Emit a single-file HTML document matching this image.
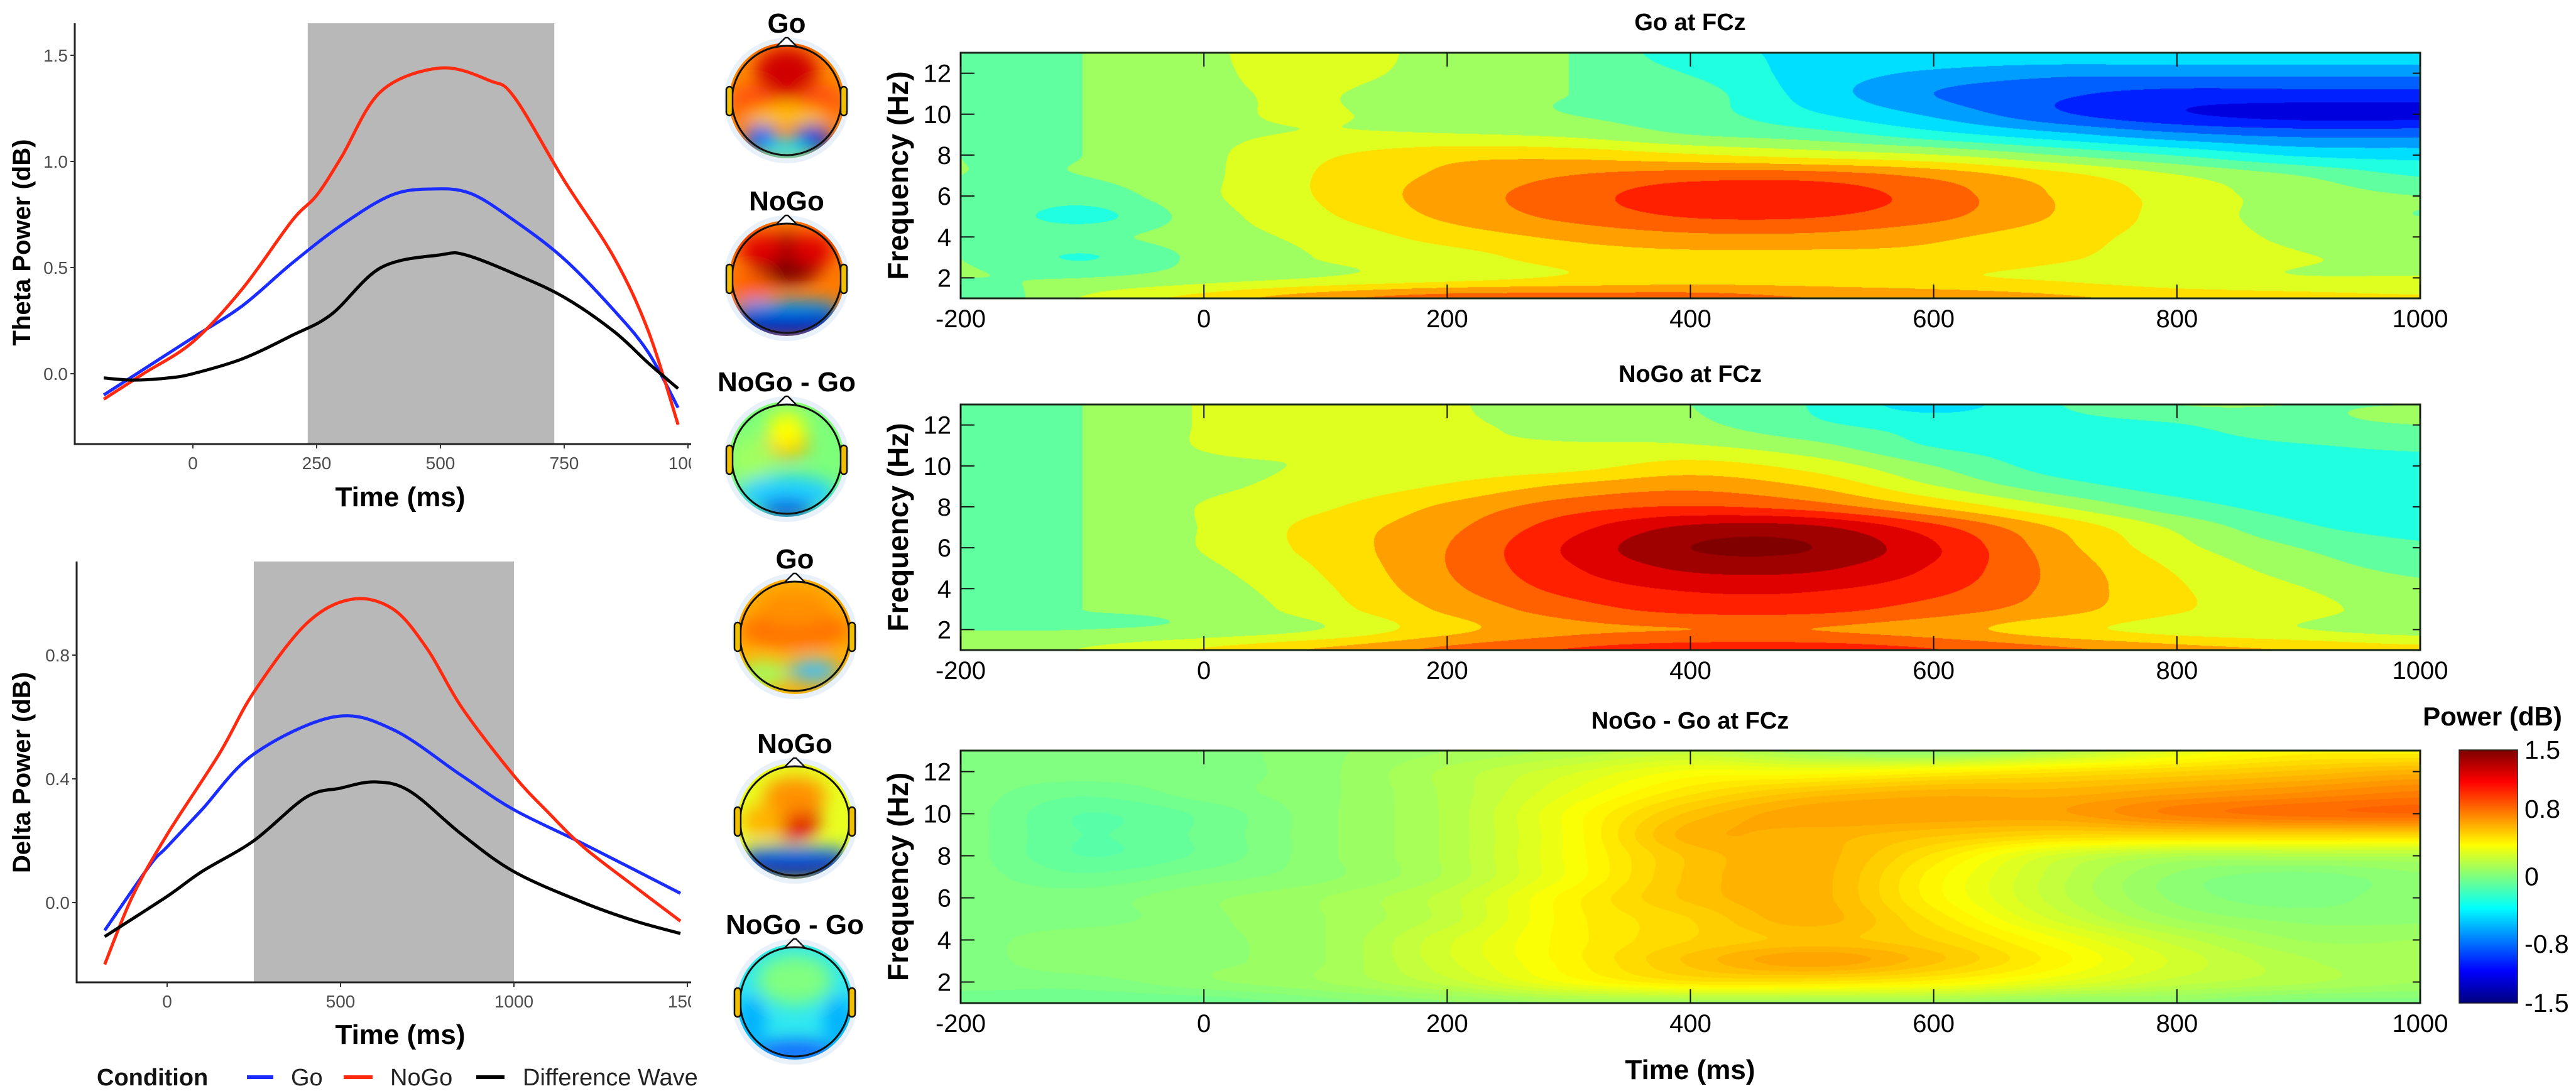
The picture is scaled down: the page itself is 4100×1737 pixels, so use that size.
<!DOCTYPE html>
<html><head><meta charset="utf-8"><style>
html,body{margin:0;padding:0;background:#fff;}
body{width:4100px;height:1737px;position:relative;overflow:hidden;font-family:"Liberation Sans",Arial,sans-serif;}
canvas{position:absolute;}
#main{position:absolute;left:0;top:0;}
</style></head><body>
<canvas id="hm-go" style="left:1529px;top:84px" width="2323" height="391"></canvas>
<canvas id="hm-nogo" style="left:1529px;top:644px" width="2323" height="391"></canvas>
<canvas id="hm-diff" style="left:1529px;top:1195px" width="2323" height="402"></canvas>
<canvas id="cbar" style="left:3914px;top:1194px" width="93" height="403"></canvas>
<svg id="main" width="4100" height="1737" xmlns="http://www.w3.org/2000/svg" font-family="Liberation Sans, Arial, sans-serif">
<defs>
<clipPath id="leftclip"><rect x="0" y="0" width="1100" height="1737"/></clipPath>
<filter id="blur" x="-50%" y="-50%" width="200%" height="200%"><feGaussianBlur stdDeviation="14"/></filter>
</defs>
<g id="theta" clip-path="url(#leftclip)"></g>
<g id="delta" clip-path="url(#leftclip)"></g>
<g id="legend">
<text x="154" y="1728" font-size="38" font-weight="bold" fill="#111">Condition</text>
<line x1="393" y1="1715" x2="435" y2="1715" stroke="#1a2cff" stroke-width="6"/>
<text x="463" y="1728" font-size="38" fill="#222">Go</text>
<line x1="547" y1="1715" x2="593" y2="1715" stroke="#ff2a10" stroke-width="6"/>
<text x="621" y="1728" font-size="38" fill="#222">NoGo</text>
<line x1="758" y1="1715" x2="803" y2="1715" stroke="#000" stroke-width="6"/>
<text x="832" y="1728" font-size="38" fill="#222">Difference Wave</text>
</g>
<g id="topos"></g>
<g id="hmaxes"></g>
<g id="cbaraxis">
<text x="3967" y="1155" font-size="42" font-weight="bold" text-anchor="middle">Power (dB)</text>
</g>
</svg>
<script>
// ---------- line chart data ----------
const thetaGoT=[-180,-100,0,100,200,300,400,480,560,650,750,850,920,980];
const thetaGoV=[-0.10,0.02,0.17,0.32,0.52,0.70,0.84,0.87,0.85,0.72,0.54,0.30,0.10,-0.16];
const thetaNoGoT=[-180,-100,0,100,200,250,300,380,500,600,650,750,850,920,980];
const thetaNoGoV=[-0.12,0.00,0.15,0.40,0.72,0.84,1.02,1.33,1.44,1.38,1.30,0.91,0.55,0.20,-0.24];
const thetaDiffT=[-180,-120,-50,0,100,200,280,380,500,550,650,750,850,920,980];
const thetaDiffV=[-0.02,-0.03,-0.02,0.00,0.07,0.18,0.28,0.50,0.56,0.56,0.47,0.36,0.20,0.05,-0.07];
const thetaXTicks=[0,250,500,750,1000];
const thetaYTicks=["0.0","0.5","1.0","1.5"];
const thetaWindow=[232,730];

const deltaGoT=[-180,-50,0,100,250,480,650,850,1000,1200,1480];
const deltaGoV=[-0.09,0.12,0.18,0.30,0.48,0.60,0.56,0.41,0.30,0.19,0.03];
const deltaNoGoT=[-180,-100,0,150,250,400,530,650,750,850,1000,1100,1200,1350,1480];
const deltaNoGoV=[-0.20,0.02,0.22,0.48,0.68,0.90,0.98,0.95,0.82,0.63,0.41,0.29,0.18,0.05,-0.06];
const deltaDiffT=[-180,0,100,250,400,500,600,700,850,1000,1200,1350,1480];
const deltaDiffV=[-0.11,0.02,0.10,0.20,0.34,0.37,0.39,0.36,0.22,0.10,0.00,-0.06,-0.10];
const deltaXTicks=[0,500,1000,1500];
const deltaYTicks=["0.0","0.4","0.8"];
const deltaWindow=[250,1000];

// ---------- heatmap data (rows: 13 Hz top -> 1 Hz bottom; cols: -200..1000 step 100) ----------
const hmTimes=[-200,-100,0,100,200,300,400,500,600,700,800,900,1000];
const hmFreqs=[13,12,11,10,9,8,7,6,5,4,3,2,1];
const goPower=[
[0,0,0.15,0.3,0.1,0,-0.3,-0.4,-0.4,-0.4,-0.4,-0.4,-0.4],
[0,0,0.15,0.25,0.1,0,-0.2,-0.45,-0.6,-0.7,-0.7,-0.7,-0.7],
[0,0,0.15,0.2,0.05,0,-0.1,-0.45,-0.75,-0.9,-1.0,-1.0,-1.0],
[0,0,0.15,0.2,0.1,0,-0.1,-0.35,-0.6,-0.9,-1.1,-1.2,-1.2],
[0,0,0.15,0.2,0.2,0.15,0,-0.1,-0.3,-0.5,-0.7,-0.8,-0.8],
[0,0,0.15,0.35,0.5,0.5,0.4,0.3,0.2,0,-0.2,-0.4,-0.45],
[0,0,0.15,0.4,0.6,0.75,0.85,0.85,0.7,0.45,0.2,0,-0.2],
[0,-0.1,0.15,0.4,0.65,0.85,1.05,1.05,0.85,0.55,0.3,0.1,0],
[0,-0.25,0.1,0.35,0.6,0.8,0.95,0.95,0.8,0.55,0.3,0.1,0],
[0,-0.05,0.1,0.25,0.45,0.6,0.7,0.7,0.6,0.45,0.3,0.15,0.1],
[0,-0.2,0.05,0.2,0.3,0.45,0.5,0.5,0.5,0.4,0.3,0.2,0.15],
[0,0,0.1,0.2,0.3,0.4,0.45,0.45,0.4,0.35,0.25,0.2,0.2],
[-0.2,0.2,0.45,0.7,0.85,0.85,0.85,0.75,0.7,0.6,0.5,0.45,0.4]];
const nogoPower=[
[0,0,0.2,0.2,0.2,0.1,0,-0.2,-0.45,-0.2,0,0,0],
[0,0,0.2,0.2,0.2,0.15,0.05,-0.15,-0.25,-0.25,-0.2,-0.05,0],
[0,0,0.2,0.2,0.2,0.2,0.2,0.05,-0.2,-0.25,-0.25,-0.2,-0.15],
[0,0,0.15,0.2,0.25,0.3,0.45,0.3,0,-0.25,-0.25,-0.25,-0.25],
[0,0,0.15,0.25,0.4,0.6,0.7,0.55,0.2,-0.1,-0.25,-0.25,-0.25],
[0,0,0.2,0.35,0.6,0.85,0.95,0.85,0.55,0.2,-0.1,-0.25,-0.25],
[0,0,0.2,0.45,0.7,1.05,1.35,1.35,1.0,0.55,0.15,-0.15,-0.25],
[0,0,0.2,0.45,0.75,1.15,1.5,1.5,1.15,0.65,0.25,0,-0.15],
[0,0,0.15,0.4,0.75,1.1,1.35,1.35,1.1,0.7,0.35,0.1,-0.05],
[0,0,0.1,0.35,0.7,1.0,1.15,1.15,1.0,0.7,0.4,0.2,0.05],
[0,0,0.05,0.3,0.6,0.85,1.0,1.0,0.85,0.65,0.4,0.25,0.1],
[0,0,0.05,0.2,0.5,0.7,0.75,0.75,0.65,0.45,0.3,0.2,0.1],
[0,0.2,0.4,0.6,0.8,0.95,1.05,1.05,0.95,0.8,0.65,0.55,0.45]];
const diffPower=[
[0,0,0,0.05,0.1,0.15,0.2,0.1,0.05,0.15,0.3,0.4,0.4],
[0,0,0,0.05,0.15,0.25,0.35,0.35,0.4,0.45,0.5,0.55,0.6],
[0,-0.05,0,0.05,0.15,0.3,0.45,0.55,0.6,0.6,0.65,0.7,0.75],
[0,-0.1,-0.05,0.05,0.15,0.35,0.55,0.65,0.65,0.65,0.75,0.8,0.82],
[0,-0.1,-0.05,0.05,0.15,0.35,0.6,0.6,0.55,0.5,0.5,0.5,0.5],
[0,-0.1,-0.05,0.05,0.15,0.35,0.55,0.6,0.45,0.25,0.15,0.15,0.15],
[0,-0.05,0,0.05,0.15,0.35,0.55,0.6,0.4,0.2,0.05,0,0.05],
[0,0,0.05,0.1,0.2,0.4,0.55,0.6,0.4,0.2,0.05,0,0.05],
[0,0,0.05,0.1,0.2,0.4,0.5,0.6,0.45,0.25,0.1,0.05,0.05],
[0,0.05,0.05,0.1,0.25,0.4,0.5,0.55,0.5,0.35,0.2,0.1,0.1],
[0,0.05,0.05,0.1,0.25,0.4,0.55,0.65,0.55,0.4,0.25,0.15,0.1],
[0,0,0.05,0.1,0.2,0.35,0.45,0.45,0.4,0.3,0.2,0.15,0.1],
[-0.05,-0.05,-0.05,0,0.05,0.1,0.1,0.1,0.1,0.05,0.05,0,0]];
const hmXTicks=[-200,0,200,400,600,800,1000];
const hmYTicks=[2,4,6,8,10,12];
const cbarTicks=["1.5","0.8","0","-0.8","-1.5"];
const cbarTickVals=[1.5,0.8,0,-0.8,-1.5];

const NS="http://www.w3.org/2000/svg";
function mk(tag,attrs,parent){const e=document.createElementNS(NS,tag);for(const k in attrs)e.setAttribute(k,attrs[k]);parent.appendChild(e);return e;}
function smoothPath(pts){let d="M"+pts[0][0]+","+pts[0][1];for(let i=0;i<pts.length-1;i++){const p0=pts[Math.max(i-1,0)],p1=pts[i],p2=pts[i+1],p3=pts[Math.min(i+2,pts.length-1)];const c1x=p1[0]+(p2[0]-p0[0])/6,c1y=p1[1]+(p2[1]-p0[1])/6,c2x=p2[0]-(p3[0]-p1[0])/6,c2y=p2[1]-(p3[1]-p1[1])/6;d+=" C"+c1x+","+c1y+" "+c2x+","+c2y+" "+p2[0]+","+p2[1];}return d;}

function lineChart(gid,cfg){
  const g=document.getElementById(gid);
  const X=t=>cfg.x0+t*cfg.kx, Y=v=>cfg.y0-v*cfg.ky;
  let r=mk('rect',{x:X(cfg.win[0]),y:cfg.top,width:X(cfg.win[1])-X(cfg.win[0]),height:cfg.bottom-cfg.top,fill:'#b8b8b8'},g);
  
  
  let ax=mk('path',{d:`M${cfg.left},${cfg.top} V${cfg.bottom} H1100`,stroke:'#222',fill:'none','stroke-width':3},g);
  
  
  cfg.yt.forEach(s=>{const y=Y(parseFloat(s));
    const l=mk('line',{x1:cfg.left-7,x2:cfg.left,y1:y,y2:y,stroke:'#333','stroke-width':2},g);
    
    
    const t=mk('text',{x:cfg.left-11,y:y+10,'text-anchor':'end','font-size':28,fill:'#4d4d4d'},g);t.textContent=s;
    
    });
  cfg.xt.forEach(v=>{const x=X(v);
    const l=mk('line',{x1:x,x2:x,y1:cfg.bottom,y2:cfg.bottom+7,stroke:'#333','stroke-width':2},g);
    
    
    const t=mk('text',{x:x,y:cfg.bottom+40,'text-anchor':'middle','font-size':28,fill:'#4d4d4d'},g);t.textContent=v;
    
    });
  const series=[[cfg.goT,cfg.goV,'#1a2cff','go-line'],[cfg.ngT,cfg.ngV,'#ff2a10','nogo-line'],[cfg.dT,cfg.dV,'#000','difference-line']];
  series.forEach(s=>{const pts=s[0].map((t,i)=>[X(t),Y(s[1][i])]);
    const p=mk('path',{d:smoothPath(pts),stroke:s[2],fill:'none','stroke-width':5,'stroke-linejoin':'round'},g);
    
    });
  const xt=mk('text',{x:cfg.xlabX,y:cfg.xlabY,'text-anchor':'middle','font-size':44,'font-weight':'bold'},g);xt.textContent='Time (ms)';
  
  
  const yt=mk('text',{x:0,y:0,'text-anchor':'middle','font-size':40,'font-weight':'bold',transform:`translate(48,${cfg.ylabY}) rotate(-90)`},g);yt.textContent=cfg.ylab;
  
  
}
lineChart('theta',{x0:307,kx:0.788,y0:595,ky:338,top:37,bottom:707,left:119,win:thetaWindow,yt:thetaYTicks,xt:thetaXTicks,
  goT:thetaGoT,goV:thetaGoV,ngT:thetaNoGoT,ngV:thetaNoGoV,dT:thetaDiffT,dV:thetaDiffV,xlabX:637,xlabY:806,ylabY:386,ylab:'Theta Power (dB)'});
lineChart('delta',{x0:266,kx:0.552,y0:1437,ky:492.5,top:894,bottom:1564,left:122,win:deltaWindow,yt:deltaYTicks,xt:deltaXTicks,
  goT:deltaGoT,goV:deltaGoV,ngT:deltaNoGoT,ngV:deltaNoGoV,dT:deltaDiffT,dV:deltaDiffV,xlabX:637,xlabY:1662,ylabY:1230,ylab:'Delta Power (dB)'});

// ---------- jet colormap ----------
function jet(v){ // v in [0,1]
  const c=x=>Math.max(0,Math.min(1,x));
  const r=c(1.5-Math.abs(4*v-3)), g=c(1.5-Math.abs(4*v-2)), b=c(1.5-Math.abs(4*v-1));
  return [r*255,g*255,b*255];
}
function cr(p0,p1,p2,p3,t){return 0.5*((2*p1)+(-p0+p2)*t+(2*p0-5*p1+4*p2-p3)*t*t+(-p0+3*p1-3*p2+p3)*t*t*t);}
function sample(grid,u,v){
  const R=grid.length,C=grid[0].length;
  const iu=Math.min(Math.floor(u),C-2),iv=Math.min(Math.floor(v),R-2);
  const fu=u-iu,fv=v-iv;
  const g=(r,c)=>grid[Math.max(0,Math.min(R-1,r))][Math.max(0,Math.min(C-1,c))];
  const rows=[];
  for(let k=-1;k<3;k++){rows.push(cr(g(iv+k,iu-1),g(iv+k,iu),g(iv+k,iu+1),g(iv+k,iu+2),fu));}
  return cr(rows[0],rows[1],rows[2],rows[3],fv);
}
function drawHeat(id,grid,step){
  const cv=document.getElementById(id),ctx=cv.getContext('2d');
  const W=cv.width,H=cv.height,img=ctx.createImageData(W,H);
  const tMin=hmTimes[0],tMax=hmTimes[hmTimes.length-1],fMax=hmFreqs[0],fMin=hmFreqs[hmFreqs.length-1];
  const tStep=hmTimes[1]-hmTimes[0],fStep=hmFreqs[0]-hmFreqs[1];
  for(let y=0;y<H;y++){const f=fMax-(y+0.5)/H*(fMax-fMin);const v=(fMax-f)/fStep;
    for(let x=0;x<W;x++){const t=tMin+(x+0.5)/W*(tMax-tMin);const u=(t-tMin)/tStep;
      let val=sample(grid,u,v);
      val=(Math.floor((val+1.5)/step)+0.5)*step-1.5;
      const c=jet(Math.max(0,Math.min(1,(val+1.5)/3)));
      const i=(y*W+x)*4;img.data[i]=c[0];img.data[i+1]=c[1];img.data[i+2]=c[2];img.data[i+3]=255;}}
  ctx.putImageData(img,0,0);
}
drawHeat('hm-go',goPower,0.1875);
drawHeat('hm-nogo',nogoPower,0.1875);
drawHeat('hm-diff',diffPower,0.04);
(function(){const cv=document.getElementById('cbar'),ctx=cv.getContext('2d');
  for(let y=0;y<cv.height;y++){const c=jet(1-y/(cv.height-1));ctx.fillStyle=`rgb(${c[0]|0},${c[1]|0},${c[2]|0})`;ctx.fillRect(0,y,cv.width,1);}})();

// ---------- heatmap axes ----------
const hmPanels=[{top:84,bottom:475,title:'Go at FCz',ty:48},{top:644,bottom:1035,title:'NoGo at FCz',ty:608},{top:1195,bottom:1597,title:'NoGo - Go at FCz',ty:1160}];
const HL=1529,HR=3852;
const hg=document.getElementById('hmaxes');
hmPanels.forEach((p,pi)=>{
  const X=t=>HL+(t-hmTimes[0])/(hmTimes[hmTimes.length-1]-hmTimes[0])*(HR-HL);
  const Y=f=>p.top+(hmFreqs[0]-f)/(hmFreqs[0]-hmFreqs[hmFreqs.length-1])*(p.bottom-p.top);
  const b=mk('rect',{x:HL,y:p.top,width:HR-HL,height:p.bottom-p.top,fill:'none',stroke:'#1a2a1a','stroke-width':3},hg);
  
  
  hmXTicks.forEach(t=>{const x=X(t);
    const l1=mk('line',{x1:x,x2:x,y1:p.top,y2:p.top+22,stroke:'#111','stroke-width':2},hg);
    
    
    const l2=mk('line',{x1:x,x2:x,y1:p.bottom,y2:p.bottom-22,stroke:'#111','stroke-width':2},hg);
    
    
    const tx=mk('text',{x:x,y:p.bottom+46,'text-anchor':'middle','font-size':40},hg);tx.textContent=t;
    
    });
  hmYTicks.forEach(f=>{const y=Y(f);
    const l1=mk('line',{x1:HL,x2:HL+22,y1:y,y2:y,stroke:'#111','stroke-width':2},hg);
    
    
    const l2=mk('line',{x1:HR,x2:HR-12,y1:y,y2:y,stroke:'#111','stroke-width':2},hg);
    
    
    const tx=mk('text',{x:1514,y:y+14,'text-anchor':'end','font-size':40},hg);tx.textContent=f;
    
    });
  const tt=mk('text',{x:2690,y:p.ty,'text-anchor':'middle','font-size':38,'font-weight':'bold'},hg);tt.textContent=p.title;
  
  
  const yl=mk('text',{x:0,y:0,'text-anchor':'middle','font-size':46,'font-weight':'bold',transform:`translate(1445,${(p.top+p.bottom)/2}) rotate(-90)`},hg);yl.textContent='Frequency (Hz)';
  
  
});
const xl=mk('text',{x:2690,y:1718,'text-anchor':'middle','font-size':44,'font-weight':'bold'},hg);xl.textContent='Time (ms)';


const ca=document.getElementById('cbaraxis');
const cb=mk('rect',{x:3914,y:1194,width:93,height:403,fill:'none',stroke:'#222','stroke-width':1.5},ca);


cbarTicks.forEach((s,i)=>{const y=1194+(1.5-cbarTickVals[i])/3*403;
  const t=mk('text',{x:4018,y:y+14,'font-size':41},ca);t.textContent=s;
  
  });

// ---------- topomaps ----------
const topoTitles=['Go','NoGo','NoGo - Go','Go','NoGo','NoGo - Go'];
const topoCx=[1252,1252,1252,1265,1265,1265];
const topoCy=[160,443,731,1013,1307,1595];
const topoBase=['#ff8a00','#ff7a00','#7dff7a','#ffb000','#e8ff20','#30e8f0'];
const topoBlobs=[
 [['#d00000',0,-45,50,40],['#ff5010',-55,5,35,30],['#ff5010',55,5,35,30],['#1060ff',-40,60,28,22],['#0030e0',40,60,32,22],['#20f0ff',0,80,40,15],['#ffd000',0,25,70,12]],
 [['#7a0000',0,-30,60,40],['#e00000',-40,-45,35,25],['#e00000',40,-45,35,25],['#ff6000',-55,15,30,25],['#0020c0',0,70,90,25],['#00a0ff',0,45,90,10]],
 [['#ff9000',0,-25,35,22],['#ffff00',0,-45,30,30],['#a0ff60',-55,0,35,35],['#20d0ff',0,55,80,30],['#0040e0',0,80,45,15]],
 [['#ff7000',0,-10,90,30],['#ff9000',0,-45,60,30],['#40c0ff',30,55,40,18],['#a0ff60',-50,60,40,20]],
 [['#e00000',0,-5,40,35],['#ff9000',0,-40,50,30],['#ffb000',-50,0,35,25],['#0010b0',0,70,90,22],['#2080ff',0,50,90,10]],
 [['#ffd000',0,-15,25,18],['#80ff80',0,-35,60,40],['#1060ff',0,80,70,18],['#00b0ff',-70,30,25,40],['#00b0ff',70,30,25,40]]
];
const tg=document.getElementById('topos');
topoTitles.forEach((title,i)=>{
  const cx=topoCx[i],cy=topoCy[i];
  const g=mk('g',{},tg);
  
  
  const cid='tclip'+i;
  const cp=mk('clipPath',{id:cid},g);mk('circle',{cx:cx,cy:cy,r:92},cp);
  mk('circle',{cx:cx,cy:cy,r:100,fill:'#e8f0fa'},g);
  const inner=mk('g',{'clip-path':`url(#${cid})`},g);
  mk('circle',{cx:cx,cy:cy,r:92,fill:topoBase[i]},inner);
  const bl=mk('g',{filter:'url(#blur)'},inner);
  topoBlobs[i].forEach(b=>mk('ellipse',{cx:cx+b[1],cy:cy+b[2],rx:b[3],ry:b[4],fill:b[0]},bl));
  mk('path',{d:`M${cx-16},${cy-86} L${cx-2},${cy-100} L${cx+2},${cy-100} L${cx+16},${cy-86}`,fill:'#fff',stroke:'#111','stroke-width':2.5},g);
  mk('circle',{cx:cx,cy:cy,r:87,fill:'none',stroke:'#111','stroke-width':3},g);
  mk('rect',{x:cx-96,y:cy-22,width:10,height:46,rx:5,fill:'#f0c000',stroke:'#111','stroke-width':2.5},g);
  mk('rect',{x:cx+86,y:cy-22,width:10,height:46,rx:5,fill:'#f0c000',stroke:'#111','stroke-width':2.5},g);
  const t=mk('text',{x:cx,y:cy-108,'text-anchor':'middle','font-size':44,'font-weight':'bold'},g);t.textContent=title;
  
  
});
</script>
</body></html>
